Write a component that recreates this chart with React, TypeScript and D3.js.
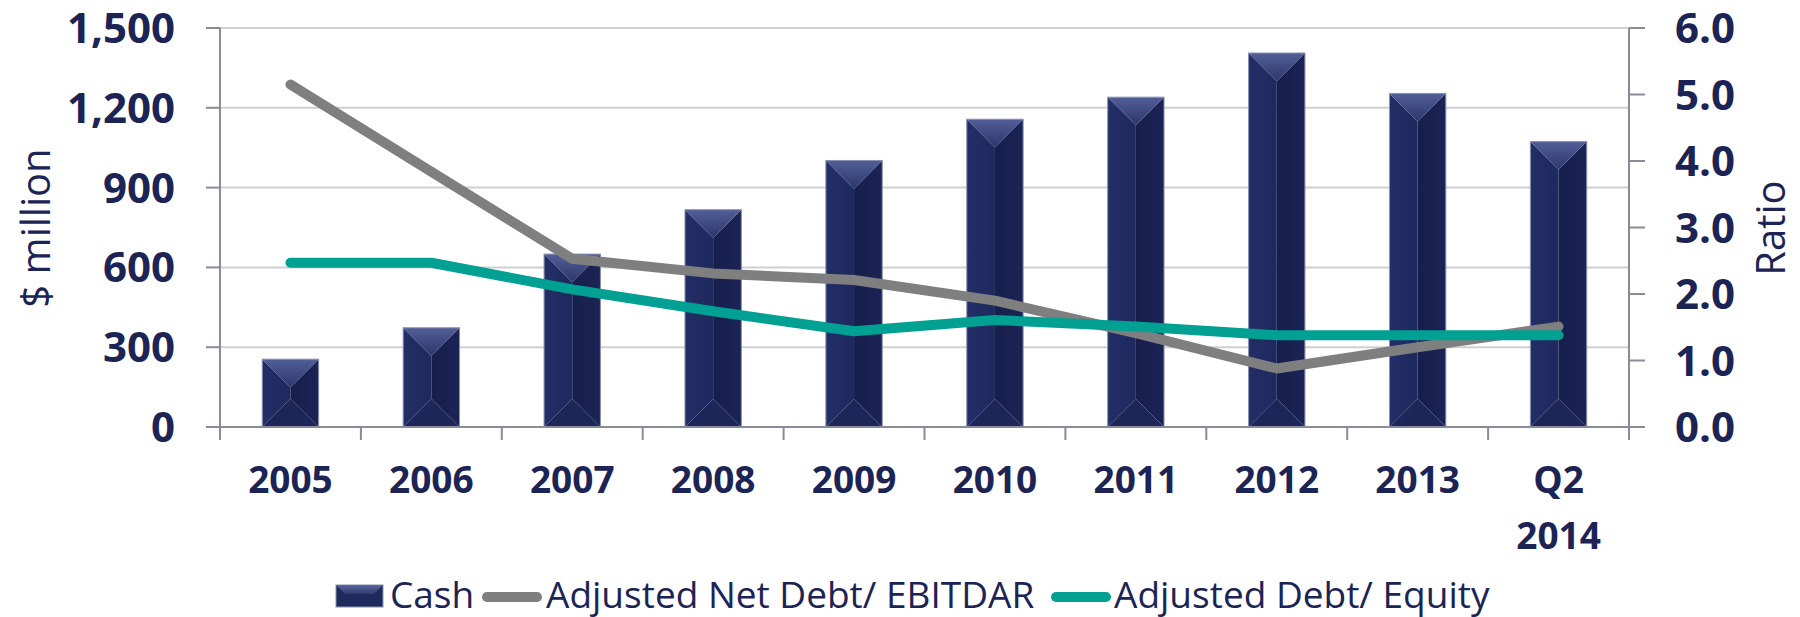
import React from "react";
import * as d3 from "d3";

const categories = ["2005", "2006", "2007", "2008", "2009", "2010", "2011", "2012", "2013", "Q2 2014"];
const cash = [255, 373, 650, 817, 1002, 1157, 1240, 1406, 1254, 1073];
const netDebtEbitdar = [5.15, 3.84, 2.53, 2.31, 2.21, 1.9, 1.41, 0.88, 1.2, 1.51];
const debtEquity = [2.47, 2.47, 2.07, 1.74, 1.44, 1.61, 1.51, 1.38, 1.38, 1.38];
const leftTicks = [0, 300, 600, 900, 1200, 1500];
const rightTicks = [0, 1, 2, 3, 4, 5, 6];
const legendLabels = ["Cash", "Adjusted Net Debt/ EBITDAR", "Adjusted Debt/ Equity"];

const NAVY = "#1b2455";
const GRAY = "#7f7f7f";
const TEAL = "#00a093";
const AXIS = "#8a8b99";
const GRID = "#d0d0d0";
const FONT = "'Open Sans', 'DejaVu Sans', sans-serif";

export default function App() {
  const W = 1800, H = 617;
  const left = 220, right = 1629, top = 28, bottom = 427;
  const x = d3.scaleBand<string>().domain(categories).range([left, right]).paddingInner(0.6).paddingOuter(0.3);
  const yL = d3.scaleLinear().domain([0, 1500]).range([bottom, top]);
  const yR = d3.scaleLinear().domain([0, 6]).range([bottom, top]);
  const bw = x.bandwidth();
  const cx = (c: string) => (x(c) as number) + bw / 2;
  const step = x.step();

  const lineGen = d3.line<number>().x((_, i) => cx(categories[i])).y((v) => yR(v));

  const bars = categories.map((c, i) => {
    const x0 = x(c) as number, x1 = x0 + bw, mid = x0 + bw / 2;
    const y0 = yL(cash[i]), y1 = yL(0);
    const d = Math.min(bw / 2, (y1 - y0) / 2);
    const pts = (arr: number[][]) => arr.map((p) => p.join(",")).join(" ");
    return (
      <g key={c}>
        <polygon points={pts([[x0, y0], [mid, y0 + d], [mid, y1 - d], [x0, y1]])} fill="url(#leftFace)" />
        <polygon points={pts([[x1, y0], [mid, y0 + d], [mid, y1 - d], [x1, y1]])} fill="url(#rightFace)" />
        <polygon points={pts([[x0, y1], [x1, y1], [mid, y1 - d]])} fill="#1c2658" />
        <polygon points={pts([[x0, y0], [x1, y0], [mid, y0 + d]])} fill="url(#topBevel)" />
        <rect x={x0} y={y0} width={bw} height={y1 - y0} fill="none" stroke="#8a90ad" strokeWidth={1} />
      </g>
    );
  });

  const boundaries = d3.range(categories.length + 1).map((i) => left + i * step);

  return (
    <svg width={W} height={H} style={{ display: "block", position: "absolute", left: 0, top: 0 }}>
      <defs>
        <linearGradient id="topBevel" x1="0" y1="0" x2="0" y2="1">
          <stop offset="0%" stopColor="#525e97" />
          <stop offset="100%" stopColor="#2b366b" />
        </linearGradient>
        <linearGradient id="leftFace" x1="0" y1="0" x2="1" y2="0">
          <stop offset="0%" stopColor="#222e66" />
          <stop offset="100%" stopColor="#1e295e" />
        </linearGradient>
        <linearGradient id="rightFace" x1="0" y1="0" x2="1" y2="0">
          <stop offset="0%" stopColor="#161e4c" />
          <stop offset="100%" stopColor="#1b2455" />
        </linearGradient>
        <linearGradient id="legBevel" x1="0" y1="0" x2="0" y2="1">
          <stop offset="0%" stopColor="#5a669e" />
          <stop offset="100%" stopColor="#2e3a70" />
        </linearGradient>
      </defs>
      <rect width={W} height={H} fill="#ffffff" />
      {leftTicks.map((t) => (
        <line key={"g" + t} x1={left} x2={right} y1={yL(t)} y2={yL(t)} stroke={GRID} strokeWidth={2} />
      ))}
      {bars}
      <line x1={left} x2={left} y1={top} y2={bottom + 13} stroke={AXIS} strokeWidth={2} />
      <line x1={right} x2={right} y1={top} y2={bottom + 13} stroke={AXIS} strokeWidth={2} />
      <line x1={left - 14} x2={right + 16} y1={bottom} y2={bottom} stroke={AXIS} strokeWidth={2} />
      {leftTicks.map((t) => (
        <line key={"lt" + t} x1={left - 14} x2={left} y1={yL(t)} y2={yL(t)} stroke={AXIS} strokeWidth={2} />
      ))}
      {rightTicks.map((t) => (
        <line key={"rt" + t} x1={right} x2={right + 16} y1={yR(t)} y2={yR(t)} stroke={AXIS} strokeWidth={2} />
      ))}
      {boundaries.map((b, i) => (
        <line key={"xt" + i} x1={b} x2={b} y1={bottom} y2={bottom + 13} stroke={AXIS} strokeWidth={2} />
      ))}
      <path d={lineGen(netDebtEbitdar) as string} fill="none" stroke={GRAY} strokeWidth={10} strokeLinecap="round" strokeLinejoin="round" />
      <path d={lineGen(debtEquity) as string} fill="none" stroke={TEAL} strokeWidth={10} strokeLinecap="round" strokeLinejoin="round" />
      {leftTicks.map((t) => (
        <text key={"ll" + t} x={175} y={yL(t) + 15} textAnchor="end" fontFamily={FONT} fontWeight={700} fontSize={42} fill={NAVY}>
          {d3.format(",")(t)}
        </text>
      ))}
      {rightTicks.map((t) => (
        <text key={"rl" + t} x={1675} y={yR(t) + 15} textAnchor="start" fontFamily={FONT} fontWeight={700} fontSize={42} fill={NAVY}>
          {d3.format(".1f")(t)}
        </text>
      ))}
      {categories.map((c) => (
        <text key={"xl" + c} x={cx(c)} y={493} textAnchor="middle" fontFamily={FONT} fontWeight={700} fontSize={37} fill={NAVY}>
          {c.split(" ").map((part, j) => (
            <tspan key={j} x={cx(c)} dy={j === 0 ? 0 : 56}>{part}</tspan>
          ))}
        </text>
      ))}
      <text transform="translate(50,228) rotate(-90)" textAnchor="middle" fontFamily={FONT} fontSize={40} fill={NAVY}>$ million</text>
      <text transform="translate(1785,228) rotate(-90)" textAnchor="middle" fontFamily={FONT} fontSize={40} fill={NAVY}>Ratio</text>
      <g>
        <rect x={336} y={585} width={47} height={22} fill="#1e295d" stroke="#8a90ad" strokeWidth={1} />
        <polygon points="336,585 383,585 374,594 345,594" fill="url(#legBevel)" />
        <text x={390} y={608} fontFamily={FONT} fontSize={37} fill={NAVY}>{legendLabels[0]}</text>
        <line x1={487} x2={537} y1={597} y2={597} stroke={GRAY} strokeWidth={10} strokeLinecap="round" />
        <text x={546} y={608} fontFamily={FONT} fontSize={37} fill={NAVY}>{legendLabels[1]}</text>
        <line x1={1056} x2={1106} y1={597} y2={597} stroke={TEAL} strokeWidth={10} strokeLinecap="round" />
        <text x={1114} y={608} fontFamily={FONT} fontSize={37} fill={NAVY}>{legendLabels[2]}</text>
      </g>
    </svg>
  );
}
